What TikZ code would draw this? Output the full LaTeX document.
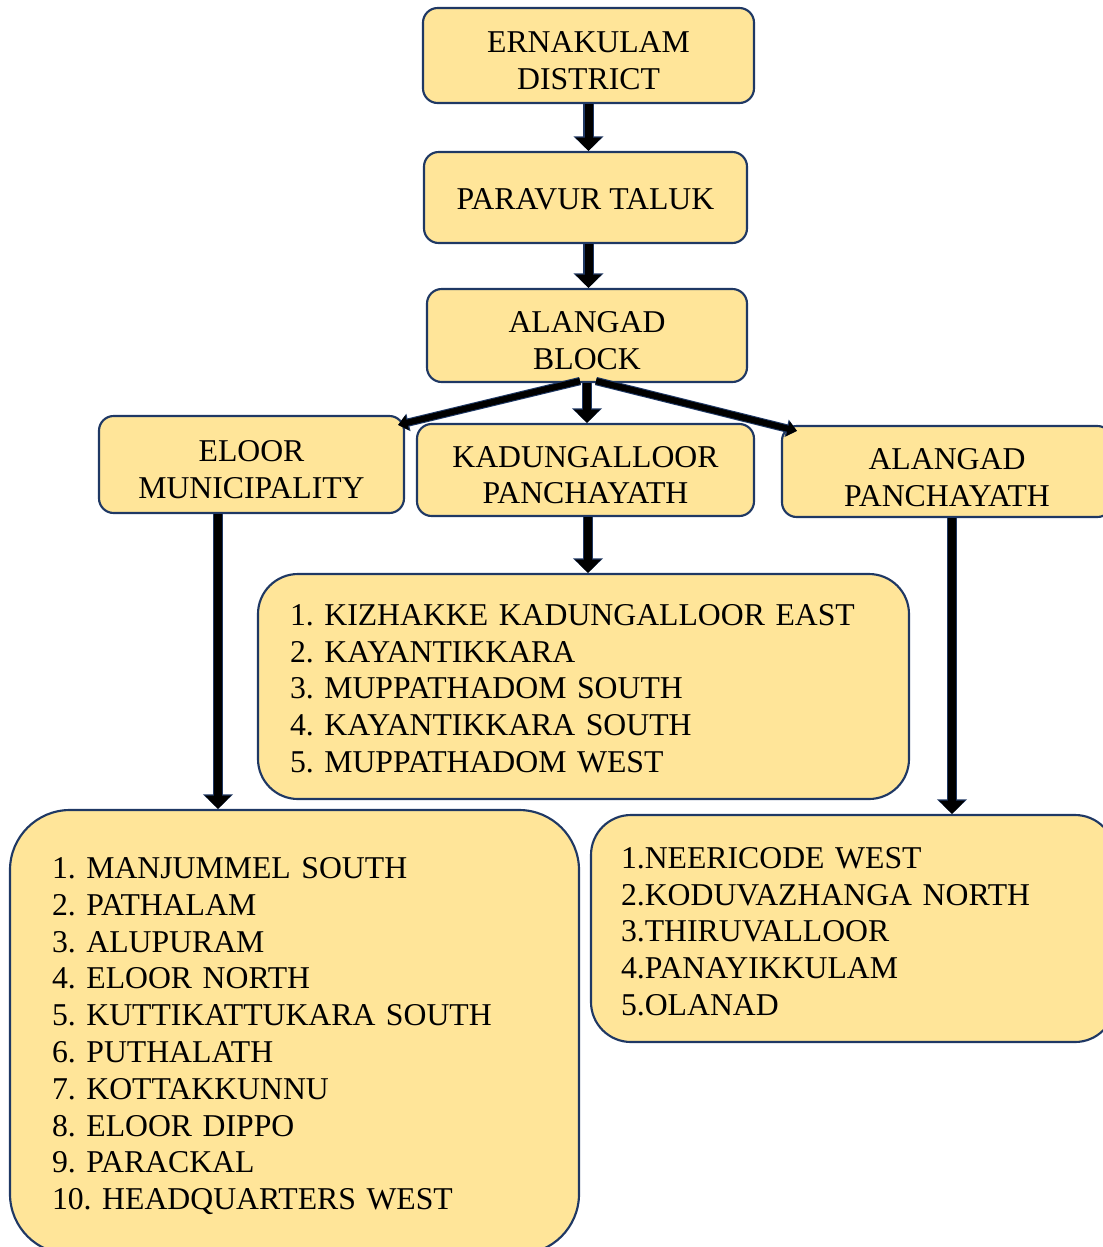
\documentclass[tikz,border=0pt]{standalone}
\usepackage{fontspec}
\setmainfont{Liberation Serif}
\usetikzlibrary{arrows.meta,calc}
\definecolor{boxfill}{HTML}{FFE599}
\definecolor{boxline}{HTML}{1F3864}
\newcommand\tpad[1]{\rule{0pt}{#1}}
\frenchspacing
\begin{document}
\begin{tikzpicture}[x=0.75pt,y=-0.75pt,
  box/.style={draw=boxline, fill=boxfill, line width=1.6pt, rounded corners=11pt,
    align=center, inner sep=0pt, font=\fontsize{23.8}{27.6}\selectfont},
  listbox/.style={box, align=left},
  conn/.style={line width=6pt, black, -{Triangle[width=19pt,length=10pt]},
    preaction={draw=boxline, line width=8pt, -{Triangle[width=22pt,length=11pt]}}},
  diag/.style={line width=4.6pt, black, -{Triangle[width=11pt,length=7pt]},
    preaction={draw=boxline, line width=6.2pt, -{Triangle[width=13pt,length=8pt]}}},
]
\useasboundingbox (0,0) rectangle (1103,1247);
\clip (0,0) rectangle (1103,1247);

\node[box, minimum width=248.25pt, minimum height=71.25pt] (dist) at (588.5,55.5) {\tpad{23.5pt}ERNAKULAM\\DISTRICT};
\node[box, minimum width=242.25pt, minimum height=68.25pt] (taluk) at (585.5,197.5) {\tpad{19pt}PARAVUR TALUK};
\node[box, minimum width=240pt, minimum height=69.75pt] (block) at (587,335.5) {\tpad{23.5pt}ALANGAD\\BLOCK};
\node[box, minimum width=228.75pt, minimum height=72.75pt] (eloor) at (251.5,464.5) {\tpad{23.5pt}ELOOR\\MUNICIPALITY};
\node[box, minimum width=252.75pt, minimum height=69pt] (kadp) at (585.5,470) {\tpad{23.5pt}KADUNGALLOOR\\PANCHAYATH};
\node[box, minimum width=247.5pt, minimum height=68.25pt] (alp) at (947,471.5) {\tpad{24.5pt}ALANGAD\\PANCHAYATH};

\node[listbox, rounded corners=30pt, minimum width=488.25pt, minimum height=168.75pt, text width=440.25pt] (kadl) at (583.5,686.5)
  {\tpad{19pt}1. KIZHAKKE KADUNGALLOOR EAST\\2. KAYANTIKKARA\\3. MUPPATHADOM SOUTH\\4. KAYANTIKKARA SOUTH\\5. MUPPATHADOM WEST};
\node[listbox, rounded corners=45pt, minimum width=426.75pt, minimum height=333pt, text width=363.75pt] (eloorl) at (294.5,1032)
  {\tpad{22pt}1. MANJUMMEL SOUTH\\2. PATHALAM\\3. ALUPURAM\\4. ELOOR NORTH\\5. KUTTIKATTUKARA SOUTH\\6. PUTHALATH\\7. KOTTAKKUNNU\\8. ELOOR DIPPO\\9. PARACKAL\\10. HEADQUARTERS WEST};
\node[listbox, rounded corners=30pt, minimum width=393pt, minimum height=170.25pt, text width=348pt] (alpl) at (853,928.5)
  {\tpad{20.5pt}1.NEERICODE WEST\\2.KODUVAZHANGA NORTH\\3.THIRUVALLOOR\\4.PANAYIKKULAM\\5.OLANAD};

\coordinate (a1) at (dist.south);
\draw[conn] (a1) -- (a1 |- taluk.north);
\coordinate (a2) at (a1 |- taluk.south);
\draw[conn] (a2) -- (a2 |- block.north);
\draw[conn] (block.south) -- (block.south |- kadp.north);
\draw[diag] ([shift={(-7,-2)}]block.south) -- ([shift={(-7,10)}]eloor.north east);
\draw[diag] ([shift={(9,-2)}]block.south) -- ([shift={(16,6)}]alp.north west);
\coordinate (e1) at ([shift={(-33.5,0)}]eloor.south);
\draw[conn] (e1) -- (e1 |- eloorl.north);
\coordinate (k1) at ([shift={(2.5,0)}]kadp.south);
\draw[conn] (k1) -- (k1 |- kadl.north);
\coordinate (p1) at ([shift={(5,0)}]alp.south);
\draw[conn] (p1) -- (p1 |- alpl.north);
\end{tikzpicture}
\end{document}
